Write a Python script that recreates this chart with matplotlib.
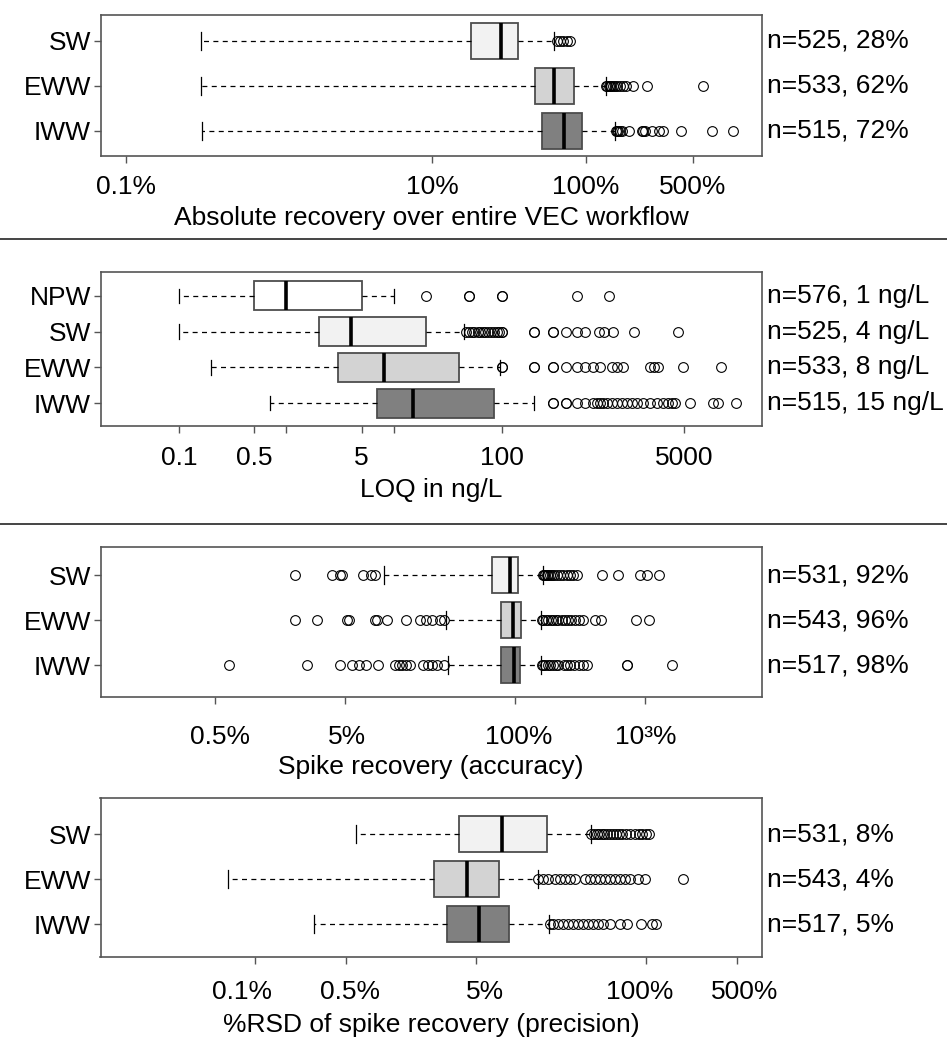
import matplotlib
matplotlib.use('Agg')
import matplotlib.pyplot as plt
from matplotlib.lines import Line2D
from matplotlib.transforms import ScaledTranslation

plt.rcParams['font.family'] = ['Liberation Sans', 'DejaVu Sans']

# ---------------- data ----------------
# Panel 1: Absolute recovery over entire VEC workflow (%)
p1_groups = ['SW', 'EWW', 'IWW']
p1_notes = ['n=525, 28%', 'n=533, 62%', 'n=515, 72%']
p1_whislo = [0.31, 0.31, 0.316]
p1_q1 = [18, 47, 52]
p1_med = [28, 62, 72]
p1_q3 = [36, 84, 95]
p1_whishi = [62, 135, 155]
p1_fliers_sw = [65, 68, 71, 75, 79]
p1_fliers_eww = [136, 138, 141, 144, 147, 150, 155, 160, 167, 175, 183, 205, 253, 585]
p1_fliers_iww = [157, 160, 163, 167, 172, 192, 232, 238, 245, 270, 300, 320, 417, 670, 910]
p1_ticks = [0.1, 10, 100, 500]
p1_ticklabels = ['0.1%', '10%', '100%', '500%']

# Panel 2: LOQ in ng/L
p2_groups = ['NPW', 'SW', 'EWW', 'IWW']
p2_notes = ['n=576, 1 ng/L', 'n=525, 4 ng/L', 'n=533, 8 ng/L', 'n=515, 15 ng/L']
p2_whislo = [0.1, 0.1, 0.2, 0.7]
p2_q1 = [0.5, 2, 3, 7]
p2_med = [1, 4, 8, 15]
p2_q3 = [5, 20, 40, 86]
p2_whishi = [10, 45, 96, 200]
p2_fliers_npw = [20, 50, 50, 100, 100, 500, 1000]
p2_fliers_sw = [47, 50, 53, 56, 60, 63, 67, 70, 75, 80, 85, 90, 95, 100, 100,
                200, 200, 300, 300, 400, 500, 600, 800, 900, 1100, 1700, 4400]
p2_fliers_eww = [100, 100, 200, 200, 300, 300, 400, 500, 600, 710, 830, 1060, 1180,
                 1360, 2400, 2620, 2880, 4900, 11000]
p2_fliers_iww = [300, 300, 400, 400, 500, 600, 710, 770, 820, 880, 950, 1060, 1180,
                 1310, 1460, 1630, 1810, 2090, 2400, 2780, 3200, 3560, 3830, 4110,
                 5670, 9330, 10400, 15200]
p2_ticks = [0.1, 0.5, 1, 5, 10, 100, 5000]
p2_ticklabels = ['0.1', '0.5', '', '5', '', '100', '5000']

# Panel 3: Spike recovery (accuracy), %
p3_groups = ['SW', 'EWW', 'IWW']
p3_notes = ['n=531, 92%', 'n=543, 96%', 'n=517, 98%']
p3_whislo = [9.8, 29.5, 30.8]
p3_q1 = [67, 78, 78]
p3_med = [92, 96, 98]
p3_q3 = [106, 111, 110]
p3_whishi = [163, 158, 158]
p3_fliers_sw = [2.05, 3.96, 4.54, 4.73, 6.86, 7.86, 8.43,
                163, 166, 170, 175, 180, 186, 192, 200, 209, 220, 235, 250, 264, 280, 298,
                463, 613, 910, 1035, 1280]
p3_fliers_eww = [2.05, 3.0, 5.17, 5.33, 8.5, 8.8, 10.4, 14.5, 18.7, 20.8, 23.1, 26.6, 28.3,
                 160, 165, 172, 180, 188, 196, 205, 215, 228, 240, 255, 270, 290, 310, 335,
                 411, 455, 843, 1075]
p3_fliers_iww = [0.64, 2.55, 4.54, 5.58, 6.38, 7.15, 8.93, 12, 12.9, 13.7, 14.5, 15.6,
                 19.7, 21.5, 23, 25, 28.5,
                 160, 165, 170, 178, 185, 195, 205, 215, 238, 250, 265, 285, 310, 335, 355,
                 720, 730, 1600]
p3_ticks = [0.5, 5, 100, 1000]
p3_ticklabels = ['0.5%', '5%', '100%', '10³%']

# Panel 4: %RSD of spike recovery (precision)
p4_groups = ['SW', 'EWW', 'IWW']
p4_notes = ['n=531, 8%', 'n=543, 4%', 'n=517, 5%']
p4_whislo = [0.60, 0.0624, 0.285]
p4_q1 = [3.7, 2.38, 2.96]
p4_med = [7.9, 4.2, 5.2]
p4_q3 = [17.5, 7.46, 8.95]
p4_whishi = [37.7, 14.9, 18.0]
p4_fliers_sw = [38, 40, 42, 44, 46, 48, 50, 53, 56, 59, 62, 66, 70, 75, 82, 88, 94, 100, 106]
p4_fliers_eww = [14.9, 16.3, 17.8, 20, 21.9, 23.9, 26.1, 28.5, 34.1, 37.3, 40.7, 44.4,
                 48.5, 53, 57.9, 63.3, 69.1, 75.5, 87.5, 98.4, 191]
p4_fliers_iww = [18.5, 19.5, 21.3, 23.2, 25.4, 27.7, 30.3, 33.1, 36.2, 39.5, 43.1, 47.1,
                 53, 63, 71, 92, 112, 119]
p4_ticks = [0.1, 0.5, 5, 100, 500]
p4_ticklabels = ['0.1%', '0.5%', '5%', '100%', '500%']

# ---------------- style ----------------
W, H = 947, 1043
FS = 19
FRAME = '#555555'
FILL = {'NPW': '#ffffff', 'SW': '#f2f2f2', 'EWW': '#d3d3d3', 'IWW': '#808080'}

fig = plt.figure(figsize=(W / 100, H / 100), dpi=100)


def make_stats(groups, whislo, q1, med, q3, whishi, fliers):
    out = []
    for i, g in enumerate(groups):
        out.append(dict(label=g, whislo=whislo[i], q1=q1[i], med=med[i],
                        q3=q3[i], whishi=whishi[i], fliers=fliers[i]))
    return out


def panel(box_px, ylim, xlim, stats, notes, ticks, ticklabels, xlabel,
          tickpad, xlabel_off, label_dx=None):
    left, top, right, bottom = box_px
    ax = fig.add_axes([left / W, 1 - bottom / H, (right - left) / W, (bottom - top) / H])
    n = len(stats)
    pos = list(range(1, n + 1))
    bp = ax.bxp(stats, positions=pos, vert=False, widths=0.8, patch_artist=True,
                showfliers=True,
                boxprops=dict(edgecolor='#4d4d4d', linewidth=1.3),
                medianprops=dict(color='black', linewidth=2.6, solid_capstyle='butt'),
                whiskerprops=dict(color='black', linewidth=0.9, linestyle=(0, (4, 3.5))),
                capprops=dict(color='black', linewidth=0.9),
                flierprops=dict(marker='o', markerfacecolor='none', markeredgecolor='black',
                                markersize=7, markeredgewidth=0.8, linestyle='none'))
    for patch, s in zip(bp['boxes'], stats):
        patch.set_facecolor(FILL[s['label']])
    ax.set_xscale('log')
    ax.set_xlim(*xlim)
    ax.set_ylim(*ylim)
    ax.set_yticks(pos)
    ax.set_yticklabels([s['label'] for s in stats], fontsize=FS)
    ax.set_xticks(ticks)
    ax.set_xticklabels(ticklabels, fontsize=FS)
    ax.xaxis.set_minor_locator(matplotlib.ticker.NullLocator())
    ax.tick_params(axis='both', length=5, width=1, color=FRAME)
    ax.tick_params(axis='x', pad=tickpad)
    ax.tick_params(axis='y', pad=2)
    if label_dx is not None:
        for lab, dx in zip(ax.get_xticklabels(), label_dx):
            lab.set_transform(lab.get_transform() +
                              ScaledTranslation(dx / 100, 0, fig.dpi_scale_trans))
    for sp in ax.spines.values():
        sp.set_color(FRAME)
        sp.set_linewidth(1.2)
    for i, t in enumerate(notes):
        ax.text(1.007, pos[i], t, transform=ax.get_yaxis_transform(), ha='left',
                va='center', fontsize=FS)
    ax.set_xlabel(xlabel, fontsize=FS)
    ax.xaxis.label.set_va('center')
    ax.xaxis.set_label_coords(0.5, -xlabel_off / (bottom - top))
    return ax


panel((100.5, 15, 762, 155.5), (3.543, 0.431), (0.0685, 1413),
      make_stats(p1_groups, p1_whislo, p1_q1, p1_med, p1_q3, p1_whishi,
                 [p1_fliers_sw, p1_fliers_eww, p1_fliers_iww]),
      p1_notes, p1_ticks, p1_ticklabels, 'Absolute recovery over entire VEC workflow',
      9.3, 62.5)

panel((100.5, 271.7, 762, 426), (4.633, 0.331), (0.01862, 26485),
      make_stats(p2_groups, p2_whislo, p2_q1, p2_med, p2_q3, p2_whishi,
                 [p2_fliers_npw, p2_fliers_sw, p2_fliers_eww, p2_fliers_iww]),
      p2_notes, p2_ticks, p2_ticklabels, 'LOQ in ng/L', 9.6, 64)

panel((100.5, 546.7, 762, 697), (3.711, 0.371), (0.0659, 7870),
      make_stats(p3_groups, p3_whislo, p3_q1, p3_med, p3_q3, p3_whishi,
                 [p3_fliers_sw, p3_fliers_eww, p3_fliers_iww]),
      p3_notes, p3_ticks, p3_ticklabels, 'Spike recovery (accuracy)', 14.9, 69.7,
      label_dx=[5, 2, 4, 0])

panel((100.5, 798.3, 762, 956.7), (3.72, 0.2), (0.00652, 778),
      make_stats(p4_groups, p4_whislo, p4_q1, p4_med, p4_q3, p4_whishi,
                 [p4_fliers_sw, p4_fliers_eww, p4_fliers_iww]),
      p4_notes, p4_ticks, p4_ticklabels, '%RSD of spike recovery (precision)', 11.5, 68.3,
      label_dx=[-13, 4, 9, -6, 8])

# separators between sections
for ypix in (238.5, 523.5):
    fig.add_artist(Line2D([0, 1], [1 - ypix / H, 1 - ypix / H], transform=fig.transFigure,
                          color='#444444', linewidth=1.4))

fig.savefig('out.png', dpi=100)
